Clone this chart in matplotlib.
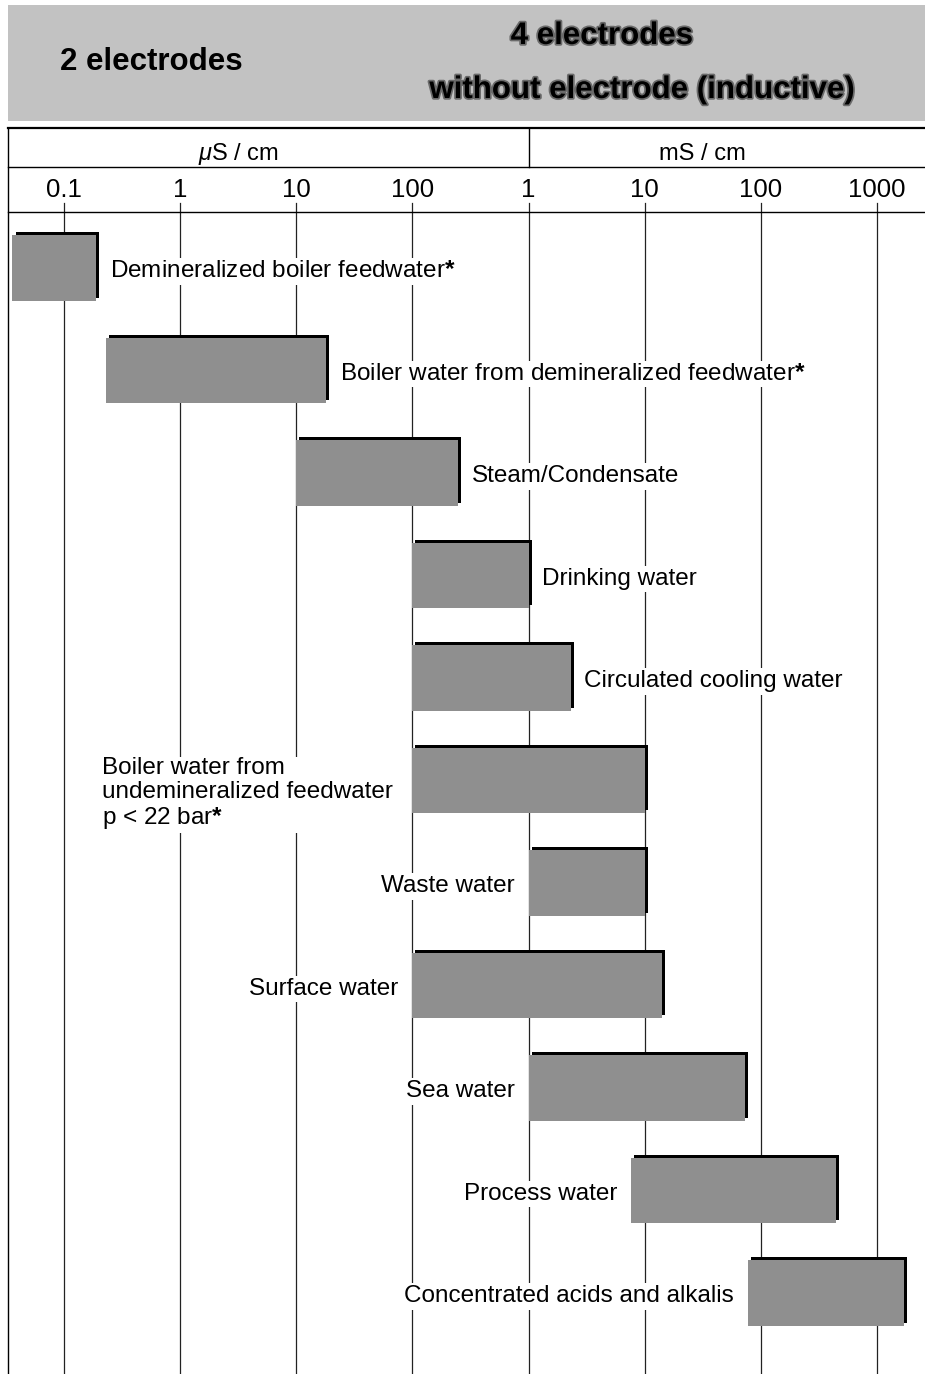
# conductivity ranges of typical waters, with the measuring principle band on top

import matplotlib
matplotlib.use('Agg')
import matplotlib.pyplot as plt
import matplotlib.patheffects as pe
from matplotlib.lines import Line2D
from matplotlib.patches import Rectangle
from matplotlib.transforms import blended_transform_factory

plt.rcParams['font.family'] = ['Liberation Sans', 'DejaVu Sans']
plt.rcParams['mathtext.fontset'] = 'custom'
plt.rcParams['mathtext.rm'] = 'Liberation Sans'
plt.rcParams['mathtext.it'] = 'Liberation Sans:italic'
plt.rcParams['mathtext.bf'] = 'Liberation Sans:bold'

# data (in uS/cm)
categories = [
    "Demineralized boiler feedwater",
    "Boiler water from demineralized feedwater",
    "Steam/Condensate",
    "Drinking water",
    "Circulated cooling water",
    "Boiler water from\nundemineralized feedwater\np < 22 bar",
    "Waste water",
    "Surface water",
    "Sea water",
    "Process water",
    "Concentrated acids and alkalis",
]
starred = [True, True, False, False, False, True, False, False, False, False, False]
low_uS = [0.036, 0.23, 10, 100, 100, 100, 1000, 100, 1000, 7600, 77000]
high_uS = [0.19, 18, 245, 1000, 2300, 10000, 10000, 14000, 73000, 445000, 1700000]
label_side = ['right'] * 5 + ['left'] * 6

decades = [0.1, 1, 10, 100, 1000, 1e4, 1e5, 1e6]
tick_labels = ['0.1', '1', '10', '100', '1', '10', '100', '1000']

# figure in pixels
W, H = 925, 1374
def fx(px):
    return px / W
def fy(py):
    return 1 - py / H

fig = plt.figure(figsize=(W / 100, H / 100), dpi=100)

dec = (877 - 64) / 7.0
xmin = 0.1 * 10 ** (-(64 - 8) / dec)
xmax = 1e6 * 10 ** ((925 - 877) / dec)
row = 102.5

ax = fig.add_axes([fx(8), fy(1374), fx(925) - fx(8), fy(212) - fy(1374)])
ax.set_xscale('log')
ax.set_xlim(xmin, xmax)
ax.set_ylim(10 + (1374 - 1293) / row, -(268 - 212) / row)
ax.axis('off')

# grid lines (run up through the tick row line)
for v in decades:
    ax.axvline(v, 0, 1 + 9 / 1162, color='#222222', lw=0.9, clip_on=False, zorder=0.5)

# bars with a black shadow up and right
ys = list(range(len(categories)))
widths = [h - l for l, h in zip(low_uS, high_uS)]
bars = ax.barh(ys, widths, left=low_uS, height=0.64, color='#8f8f8f', zorder=2)
for b in bars:
    b.set_path_effects([pe.withSimplePatchShadow(offset=(2.2, 2.2), shadow_rgbFace='black', alpha=1.0)])

lab_fs = 17.5
for i, name in enumerate(categories):
    txt = name + (r'$\mathbf{*}$' if starred[i] else '')
    if label_side[i] == 'right':
        ax.annotate(txt, xy=(high_uS[i], i), xytext=(10, -2.5), textcoords='offset points',
                    ha='left', va='center', fontsize=lab_fs, zorder=3,
                    bbox=dict(fc='white', ec='none', pad=1.5))
    else:
        multi = '\n' in name
        ax.annotate(txt, xy=(low_uS[i], i + (0.1 if multi else 0)),
                    xytext=(-14 if multi else -10, -2.5),
                    textcoords='offset points', ha='right', va='center', fontsize=lab_fs,
                    multialignment='left', linespacing=1.1, zorder=3,
                    bbox=dict(fc='white', ec='none', pad=1.5))

# header band
fig.add_artist(Rectangle((fx(8), fy(121)), fx(925) - fx(8), fy(5) - fy(121),
                         transform=fig.transFigure, fc='#c2c2c2', ec='none'))
fig.text(fx(60), fy(62), '2 electrodes', fontsize=22.5, fontweight='bold', va='center', ha='left')
fig.text(fx(602), fy(36), '4 electrodes', fontsize=22.5, fontweight='bold', va='center', ha='center',
         path_effects=[pe.Stroke(linewidth=2.5, foreground='#6a6a6a'), pe.Normal()])
fig.text(fx(642), fy(90), 'without electrode (inductive)', fontsize=22.5, fontweight='bold',
         va='center', ha='center',
         path_effects=[pe.Stroke(linewidth=2.5, foreground='#6a6a6a'), pe.Normal()])

# scale rows
for y, lw in [(128, 1.6), (167, 1.0), (212, 1.0)]:
    fig.add_artist(Line2D([fx(8), 1], [fy(y), fy(y)], color='black', lw=lw))
fig.add_artist(Line2D([fx(8), fx(8)], [fy(128), 0], color='black', lw=1.0))
fig.add_artist(Line2D([fx(529), fx(529)], [fy(128), fy(167)], color='black', lw=1.0))

tr = blended_transform_factory(ax.transData, fig.transFigure)
ax.text((0.1 * 100) ** 0.5, fy(154), r'$\mu$S / cm', transform=tr, ha='center', va='center', fontsize=17)
ax.text((1000 * 1e6) ** 0.5, fy(154), 'mS / cm', transform=tr, ha='center', va='center', fontsize=17)
for v, lab in zip(decades, tick_labels):
    ax.text(v, fy(190), lab, transform=tr, ha='center', va='center', fontsize=18.5)

fig.savefig('out.png', dpi=100)
